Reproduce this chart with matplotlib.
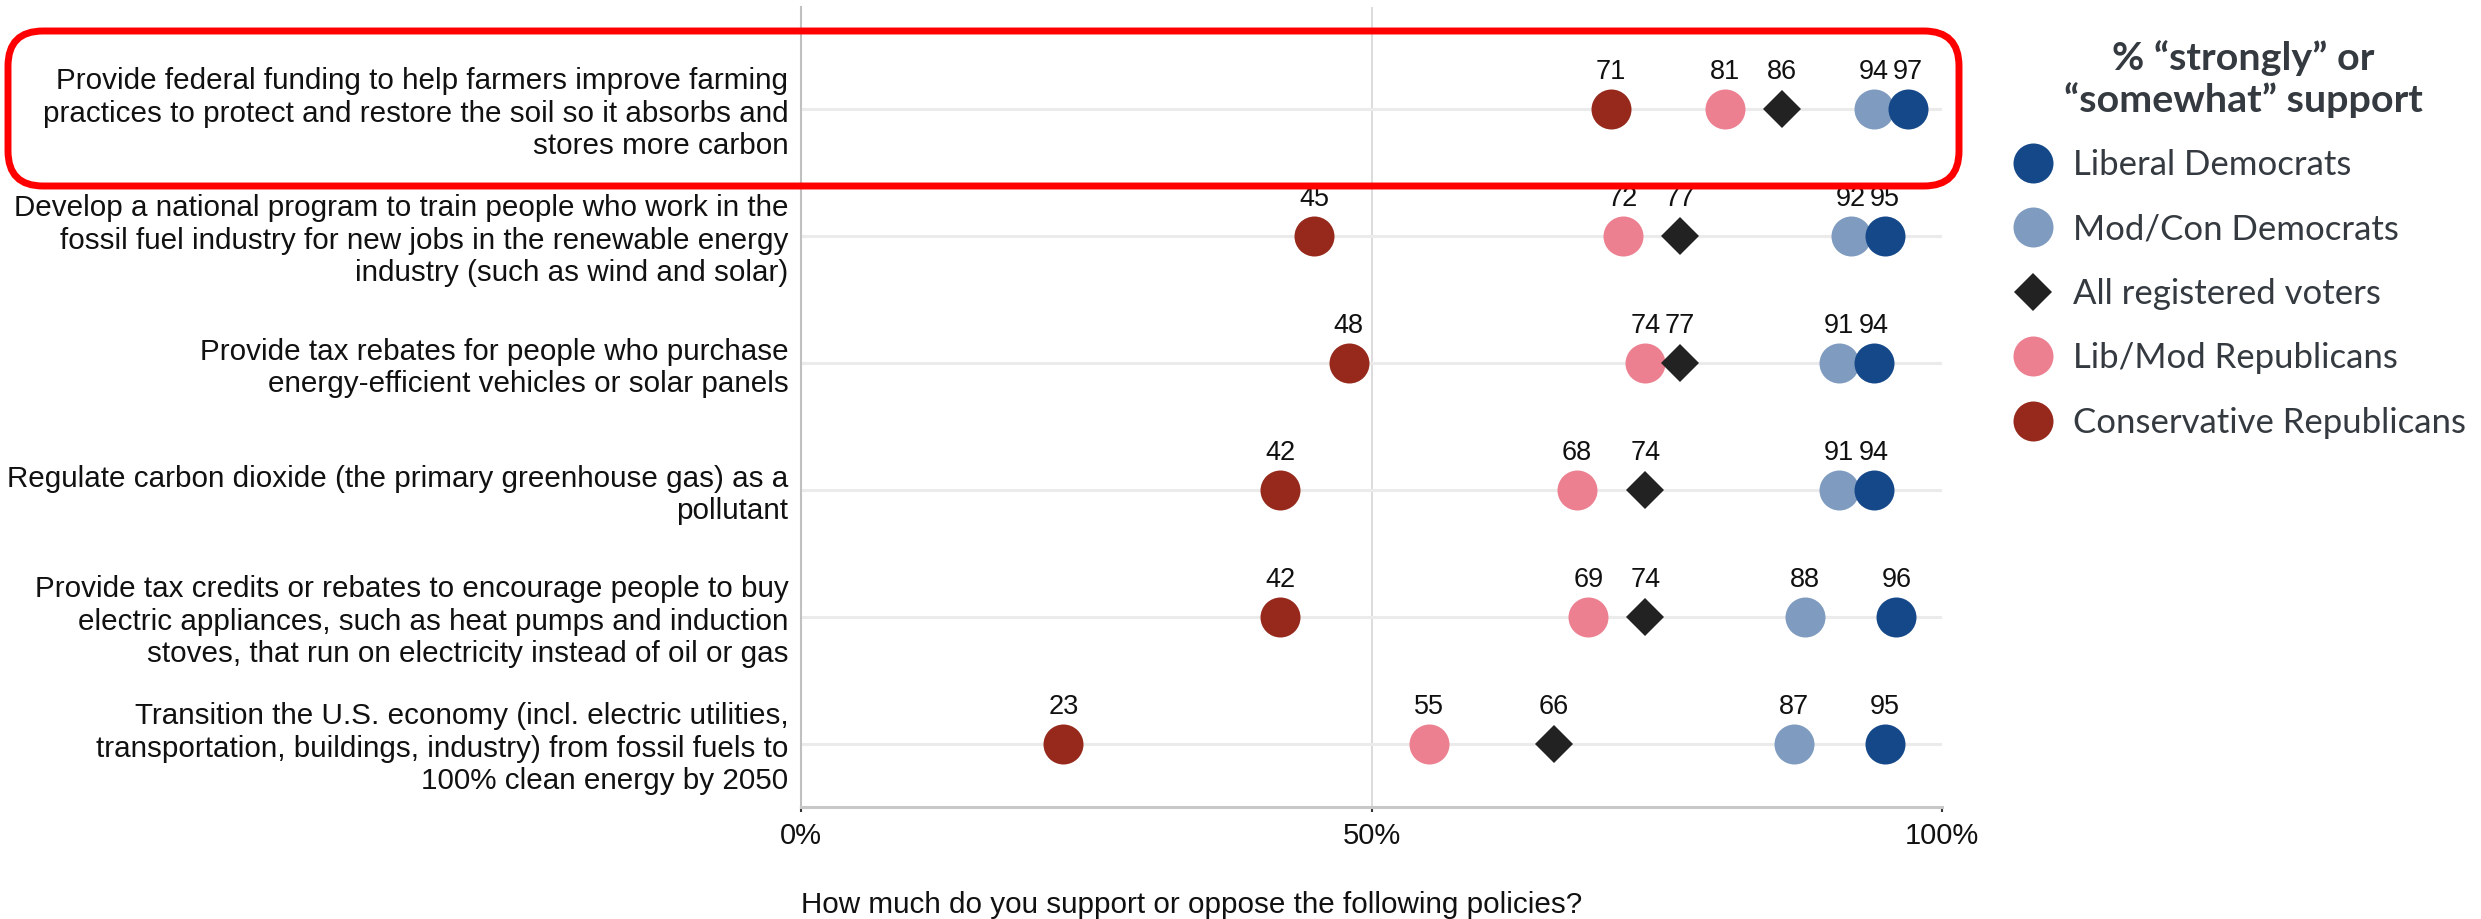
import matplotlib
matplotlib.use("Agg")
import matplotlib.pyplot as plt
from matplotlib.patches import FancyBboxPatch
from matplotlib.transforms import IdentityTransform
from matplotlib.font_manager import FontProperties
import numpy as np

# ---------------- data ----------------
policies = [
    "Provide federal funding to help farmers improve farming\npractices to protect and restore the soil so it absorbs and\nstores more carbon",
    "Develop a national program to train people who work in the\nfossil fuel industry for new jobs in the renewable energy\nindustry (such as wind and solar)",
    "Provide tax rebates for people who purchase\nenergy-efficient vehicles or solar panels",
    "Regulate carbon dioxide (the primary greenhouse gas) as a\npollutant",
    "Provide tax credits or rebates to encourage people to buy\nelectric appliances, such as heat pumps and induction\nstoves, that run on electricity instead of oil or gas",
    "Transition the U.S. economy (incl. electric utilities,\ntransportation, buildings, industry) from fossil fuels to\n100% clean energy by 2050",
]
groups = ["Liberal Democrats", "Mod/Con Democrats", "All registered voters",
          "Lib/Mod Republicans", "Conservative Republicans"]
liberal_dem = [97, 95, 94, 94, 96, 95]
modcon_dem = [94, 92, 91, 91, 88, 87]
all_voters = [86, 77, 77, 74, 74, 66]
libmod_rep = [81, 72, 74, 68, 69, 55]
cons_rep = [71, 45, 48, 42, 42, 23]
x_ticks = [0, 50, 100]
x_tick_labels = ["0%", "50%", "100%"]
legend_title = "% \u201cstrongly\u201d or\n\u201csomewhat\u201d support"
x_label = "How much do you support or oppose the following policies?"

series_values = [liberal_dem, modcon_dem, all_voters, libmod_rep, cons_rep]
series_colors = ["#154889", "#7f9bbf", "#222222", "#ec8090", "#96291c"]
series_markers = ["o", "o", "D", "o", "o"]
series_sizes = [28.8, 28.8, 19.5, 28.8, 28.8]

# ---------------- figure ----------------
plt.rcParams['font.family'] = ['Liberation Sans', 'DejaVu Sans']
W, H, DPI = 2481, 919, 100
fig = plt.figure(figsize=(W / DPI, H / DPI), dpi=DPI)
ax = fig.add_axes([801 / W, 1 - 807 / H, (1942 - 801) / W, (807 - 7) / H])

ypos = np.arange(len(policies))
for y in ypos:
    ax.axhline(y, color="#ebebeb", lw=2.2, zorder=1)
ax.axvline(50, color="#d6d6d6", lw=1.2, zorder=0)

handles = {}
draw_order = [4, 3, 2, 1, 0]
for i in draw_order:
    vals = series_values[i]
    h, = ax.plot(vals, ypos, linestyle="none", marker=series_markers[i],
                 markersize=series_sizes[i], color=series_colors[i],
                 markeredgewidth=0, zorder=3 + (4 - i), clip_on=False)
    handles[i] = h
    for v, y in zip(vals, ypos):
        ax.annotate(str(v), (v, y), xytext=(0, 26), textcoords="offset points",
                    ha="center", va="center", fontsize=19.5, color="#111111",
                    zorder=10)

ax.set_xlim(0, 100)
ax.set_ylim(5.5, -0.8)
ax.set_xticks(x_ticks, x_tick_labels)
ax.set_yticks(ypos, policies)
ax.tick_params(axis="x", length=3.6, width=1.5, color="#333333", labelsize=21,
               pad=7, labelcolor="#111111")
ax.tick_params(axis="y", length=0, pad=9, labelsize=21.3, labelcolor="#111111")
for lab in ax.get_yticklabels():
    lab.set_linespacing(1.2)

for s in ["top", "right"]:
    ax.spines[s].set_visible(False)
ax.spines["left"].set_color("#c0c0c0")
ax.spines["left"].set_linewidth(1.5)
ax.spines["bottom"].set_color("#c8c8c8")
ax.spines["bottom"].set_linewidth(2.2)

ax.set_xlabel(x_label, loc="left", fontsize=21.3, labelpad=30, color="#111111")

# ---------------- highlight box ----------------
box = FancyBboxPatch((8, H - 186), 1959 - 8, 186 - 31,
                     boxstyle="round,pad=0,rounding_size=35",
                     transform=IdentityTransform(), fill=False,
                     edgecolor="#ff0000", linewidth=5, zorder=20)
fig.add_artist(box)

# ---------------- legend ----------------
leg = fig.legend([handles[i] for i in range(5)], groups,
                 loc="upper left", bbox_to_anchor=(2012 / W, 1 - 149 / H),
                 frameon=False, borderpad=0, borderaxespad=0,
                 prop=FontProperties(family="Lato", size=25),
                 handlelength=1.2, handletextpad=0.55, labelspacing=0.935,
                 labelcolor="#343a40", markerscale=1.0)
fig.text(2243 / W, 1 - 79 / H, legend_title, ha="center", va="center",
         fontproperties=FontProperties(family="Lato", weight="bold", size=28.4),
         color="#343a40", linespacing=1.2)

fig.savefig("out.png", dpi=DPI, facecolor="white")
